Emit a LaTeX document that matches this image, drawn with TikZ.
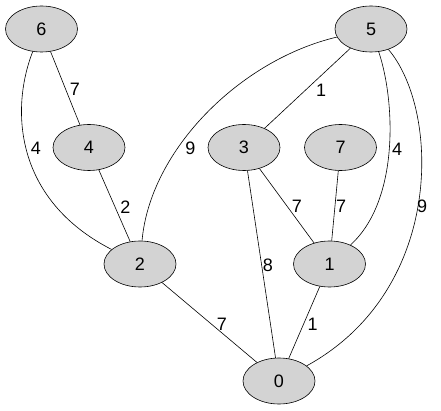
\documentclass[tikz,border=0pt]{standalone}
\usepackage{fontspec}
\setmainfont{Liberation Sans}
\usetikzlibrary{shapes.geometric}
\tikzset{
  vert/.style={ellipse, draw=black, fill={rgb,255:red,211;green,211;blue,211}, line width=0.6pt,
    minimum width=72pt, minimum height=46pt, inner sep=0pt, font=\fontsize{18}{21}\selectfont},
  lbl/.style={inner sep=0pt, font=\fontsize{18}{21}\selectfont},
  con/.style={draw=black, line width=0.6pt}
}
\begin{document}
\begin{tikzpicture}[x=1pt,y=-1pt]
\useasboundingbox (0,0) rectangle (441,411);
\node[vert] (n6) at (41.5,29) {6};
\node[vert] (n5) at (371,29) {5};
\node[vert] (n4) at (89,147.5) {4};
\node[vert] (n3) at (244,147.5) {3};
\node[vert] (n7) at (340.5,147.5) {7};
\node[vert] (n2) at (140,264) {2};
\node[vert] (n1) at (329.5,264) {1};
\node[vert] (n0) at (279,381) {0};

\draw[con] (n6) -- (n4) node[lbl] at (75,89) {7};
\draw[con] (n6) .. controls (10,110) and (15,200) .. (n2) node[lbl] at (36,148) {4};
\draw[con] (n4) -- (n2) node[lbl] at (125.5,207) {2};
\draw[con] (n5) .. controls (240,60) and (150,150) .. (n2) node[lbl] at (190.5,148.5) {9};
\draw[con] (n5) -- (n3) node[lbl] at (321,90) {1};
\draw[con] (n5) .. controls (395,100) and (400,200) .. (n1) node[lbl] at (397,149.5) {4};
\draw[con] (n5) .. controls (440,110) and (445,290) .. (n0) node[lbl] at (422,206) {9};
\draw[con] (n3) -- (n1) node[lbl] at (297,206.5) {7};
\draw[con] (n7) -- (n1) node[lbl] at (341,206.5) {7};
\draw[con] (n3) -- (n0) node[lbl] at (268,265) {8};
\draw[con] (n1) -- (n0) node[lbl] at (312.5,324.5) {1};
\draw[con] (n2) -- (n0) node[lbl] at (222,324.5) {7};
\end{tikzpicture}
\end{document}
